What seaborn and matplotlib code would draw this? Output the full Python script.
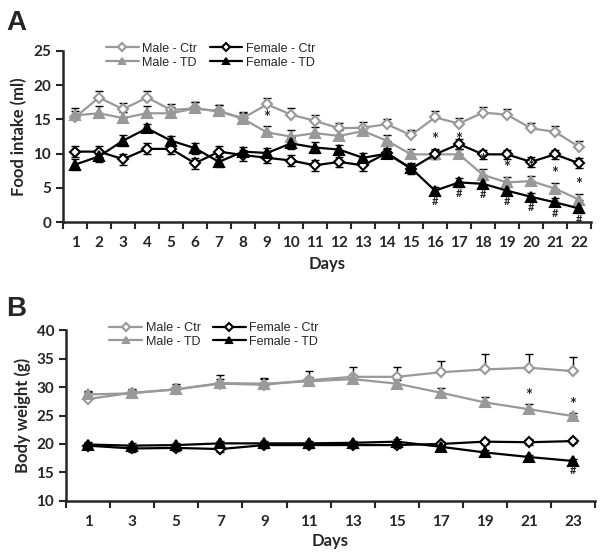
import numpy as np
import pandas as pd
import matplotlib.pyplot as plt
import seaborn as sns

# ─────────────────────────────────────────
# Data
# ─────────────────────────────────────────

days_a = list(range(1, 23))
food_male_ctr = [15.3, 18.2, 16.5, 18.2, 16.4, 16.6, 16.2, 15.2, 17.2, 15.7, 14.8,
                 13.7, 13.8, 14.3, 12.7, 15.3, 14.4, 16.0, 15.7, 13.7, 13.2, 11.0]
food_male_td = [15.6, 15.9, 15.2, 15.9, 15.9, 16.6, 16.2, 15.1, 13.1, 12.5, 13.0,
                12.6, 13.3, 11.9, 9.9, 9.9, 9.9, 6.9, 5.8, 6.0, 4.9, 3.3]
food_female_ctr = [10.3, 10.3, 9.2, 10.7, 10.7, 8.6, 10.3, 9.8, 9.4, 9.0, 8.3,
                   8.8, 8.3, 10.1, 7.8, 9.9, 11.4, 9.9, 9.9, 8.8, 9.9, 8.6]
food_female_td = [8.4, 9.6, 11.9, 13.7, 11.9, 10.8, 8.8, 10.3, 10.1, 11.5, 10.9,
                  10.6, 9.4, 10.0, 7.9, 4.6, 5.8, 5.6, 4.6, 3.7, 2.9, 2.0]
food_err_male_ctr = [1.0, 0.9, 0.9, 0.9, 0.8, 0.9, 0.9, 0.9, 0.9, 0.9, 0.8,
                     0.8, 0.8, 0.8, 0.8, 0.9, 0.8, 0.8, 0.8, 0.8, 0.8, 0.8]
food_err_male_td = [1.0, 1.0, 0.9, 1.0, 0.9, 0.9, 0.9, 0.8, 0.9, 0.9, 0.9,
                    0.8, 0.8, 0.9, 0.8, 0.8, 0.8, 0.8, 0.8, 0.8, 0.8, 0.8]
food_err_female_ctr = [0.8, 0.8, 0.8, 0.8, 0.8, 0.8, 0.8, 0.8, 0.8, 0.8, 0.8,
                       0.7, 0.8, 0.7, 0.7, 0.7, 0.7, 0.7, 0.7, 0.7, 0.7, 0.7]
food_err_female_td = [0.8, 0.8, 0.8, 0.6, 0.7, 0.8, 0.8, 0.7, 0.7, 0.8, 0.8,
                      0.7, 0.7, 0.7, 0.7, 0.6, 0.6, 0.6, 0.6, 0.6, 0.6, 0.6]
food_star_days = [9, 16, 17, 18, 19, 20, 21, 22]
food_hash_days = [16, 17, 18, 19, 20, 21, 22]

days_b = list(range(1, 24, 2))
bw_male_ctr = [27.9, 29.0, 29.6, 30.6, 30.4, 31.2, 31.8, 31.8, 32.6, 33.1, 33.4, 32.8]
bw_male_td = [28.7, 28.9, 29.6, 30.7, 30.6, 31.0, 31.4, 30.6, 29.0, 27.3, 26.1, 24.9]
bw_female_ctr = [19.7, 19.2, 19.3, 19.1, 19.8, 19.8, 19.8, 19.8, 20.0, 20.4, 20.3, 20.5]
bw_female_td = [19.9, 19.7, 19.8, 20.1, 20.1, 20.1, 20.2, 20.4, 19.5, 18.5, 17.7, 17.0]
bw_err_male_ctr = [1.3, 0.7, 0.9, 1.5, 1.2, 1.6, 1.7, 1.7, 1.9, 2.7, 2.4, 2.4]
bw_err_male_td = [0.6, 0.5, 0.6, 0.8, 0.8, 0.7, 0.7, 0.6, 0.9, 1.0, 0.9, 0.5]
bw_err_female_ctr = [0.5, 0.7, 0.5, 0.6, 0.5, 0.5, 0.6, 0.5, 0.4, 0.4, 0.5, 0.4]
bw_err_female_td = [0.4, 0.4, 0.4, 0.4, 0.4, 0.4, 0.4, 0.4, 0.4, 0.4, 0.4, 0.4]
bw_star_days = [21, 23]
bw_hash_days = [23]

GREY = '#999999'
BLACK = '#000000'

sns.set_style('ticks')
plt.rcParams['font.family'] = ['Lato', 'DejaVu Sans']
plt.rcParams['font.weight'] = 'bold'


def draw_series(ax, x, y, err, color, marker, label, upper_only):
    df = pd.DataFrame({'x': x, 'y': y})
    if upper_only:
        yerr = [np.zeros(len(err)), err]
    else:
        yerr = err
    ax.errorbar(x, y, yerr=yerr, fmt='none', ecolor='black', elinewidth=1,
                capsize=3, capthick=1, zorder=2)
    face = 'white' if marker == 'D' else color
    sns.lineplot(data=df, x='x', y='y', ax=ax, color=color, lw=1.6,
                 marker=marker, markersize=5.5 if marker == 'D' else 6.5,
                 markerfacecolor=face, markeredgecolor=color,
                 markeredgewidth=1.5, label=label, zorder=3)


def style_axis(ax, ylabel):
    sns.despine(ax=ax)
    ax.spines['left'].set_linewidth(1.8)
    ax.spines['bottom'].set_linewidth(1.8)
    ax.tick_params(axis='y', direction='out', length=5, width=1.5, labelsize=11)
    ax.tick_params(axis='x', which='major', length=0, labelsize=11, pad=10)
    ax.tick_params(axis='x', which='minor', direction='out', length=5, width=1.5)
    ax.set_ylabel(ylabel, fontsize=12, fontweight='bold')
    ax.set_xlabel('Days', fontsize=12, fontweight='bold')
    for t in ax.get_xticklabels() + ax.get_yticklabels():
        t.set_fontweight('bold')
    handles, labels = ax.get_legend_handles_labels()
    ax.legend(handles, labels, ncol=2, frameon=False, markerscale=0.7,
              prop={'family': 'Liberation Sans', 'size': 9, 'weight': 'normal'},
              loc='lower left', bbox_to_anchor=(0.07, 0.86),
              handlelength=2.6, columnspacing=1.0, labelspacing=0.15,
              handletextpad=0.3, borderpad=0)


fig = plt.figure(figsize=(6, 5.54), dpi=100)

# ─────────────────────────────────────────
# Panel A — food intake
# ─────────────────────────────────────────
ax1 = fig.add_axes([0.105, 0.599, 0.88, 0.309])
draw_series(ax1, days_a, food_male_ctr, food_err_male_ctr, GREY, 'D', 'Male - Ctr', True)
draw_series(ax1, days_a, food_male_td, food_err_male_td, GREY, '^', 'Male - TD', True)
draw_series(ax1, days_a, food_female_ctr, food_err_female_ctr, BLACK, 'D', 'Female - Ctr', False)
draw_series(ax1, days_a, food_female_td, food_err_female_td, BLACK, '^', 'Female - TD', False)
ax1.set_xlim(0.5, 22.5)
ax1.set_ylim(0, 25)
ax1.set_yticks(range(0, 26, 5))
ax1.set_xticks(days_a)
ax1.set_xticks(np.arange(0.5, 23, 1), minor=True)
for d in food_star_days:
    i = days_a.index(d)
    ax1.text(d, food_male_td[i] + food_err_male_td[i] + 0.1, '*', ha='center',
             va='bottom', fontsize=12, fontweight='bold')
for d in food_hash_days:
    i = days_a.index(d)
    ax1.text(d, food_female_td[i] - food_err_female_td[i] - 0.2, '#', ha='center',
             va='top', fontsize=8, fontweight='bold')
style_axis(ax1, 'Food intake (ml)')
ax1.xaxis.set_label_coords(0.5, -0.2)
fig.text(0.01, 0.945, 'A', fontsize=20, fontweight='bold', family='Liberation Sans')

# ─────────────────────────────────────────
# Panel B — body weight
# ─────────────────────────────────────────
ax2 = fig.add_axes([0.11, 0.096, 0.882, 0.308])
draw_series(ax2, days_b, bw_male_ctr, bw_err_male_ctr, GREY, 'D', 'Male - Ctr', True)
draw_series(ax2, days_b, bw_male_td, bw_err_male_td, GREY, '^', 'Male - TD', True)
draw_series(ax2, days_b, bw_female_ctr, bw_err_female_ctr, BLACK, 'D', 'Female - Ctr', False)
draw_series(ax2, days_b, bw_female_td, bw_err_female_td, BLACK, '^', 'Female - TD', False)
ax2.set_xlim(0, 24)
ax2.set_ylim(10, 40)
ax2.set_yticks(range(10, 41, 5))
ax2.set_xticks(days_b)
ax2.set_xticks(np.arange(0, 25, 2), minor=True)
for d in bw_star_days:
    i = days_b.index(d)
    ax2.text(d, bw_male_td[i] + bw_err_male_td[i] + 0.1, '*', ha='center',
             va='bottom', fontsize=12, fontweight='bold')
for d in bw_hash_days:
    i = days_b.index(d)
    ax2.text(d, bw_female_td[i] - bw_err_female_td[i] - 0.3, '#', ha='center',
             va='top', fontsize=8, fontweight='bold')
style_axis(ax2, 'Body weight (g)')
ax2.xaxis.set_label_coords(0.5, -0.19)
fig.text(0.01, 0.43, 'B', fontsize=20, fontweight='bold', family='Liberation Sans')

plt.savefig('out.png', dpi=100)
